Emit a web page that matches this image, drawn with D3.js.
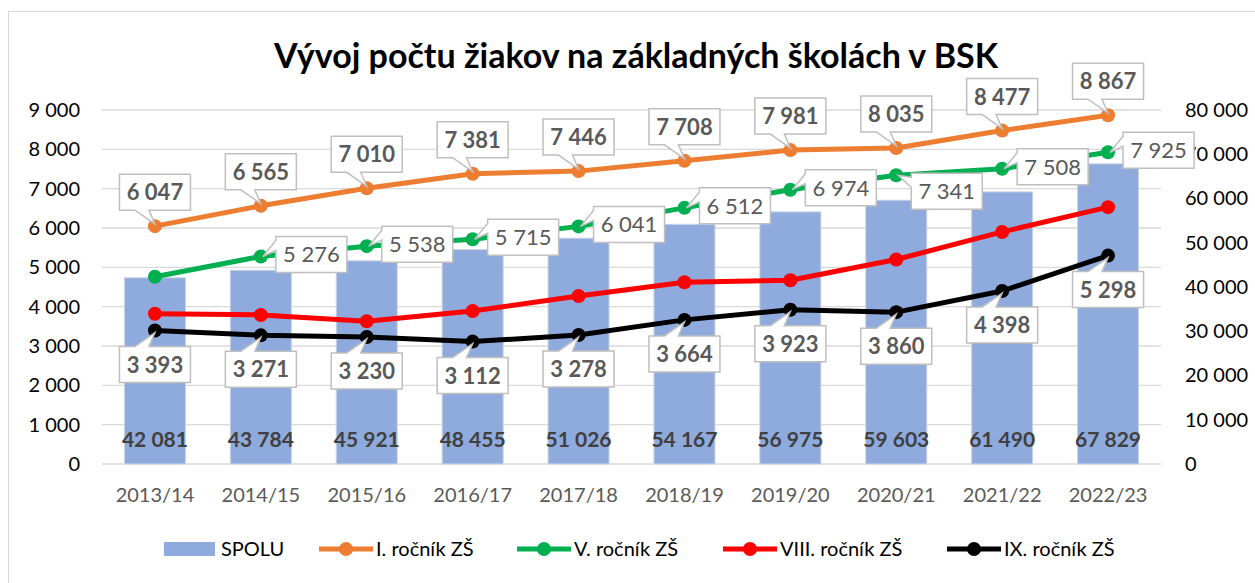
<!DOCTYPE html>
<html>
<head>
<meta charset="utf-8">
<script src="https://cdn.jsdelivr.net/npm/d3@7"></script>
<style>
  body { margin: 0; background: #fff; }
  svg { font-family: Lato, "Open Sans", sans-serif; }
</style>
</head>
<body>
<svg id="chart" width="1255" height="583"></svg>
<script>
// data
const years = ['2013/14','2014/15','2015/16','2016/17','2017/18','2018/19','2019/20','2020/21','2021/22','2022/23'];
const spolu = [42081, 43784, 45921, 48455, 51026, 54167, 56975, 59603, 61490, 67829];
const rocnik1 = [6047, 6565, 7010, 7381, 7446, 7708, 7981, 8035, 8477, 8867];
const rocnik5 = [4760, 5276, 5538, 5715, 6041, 6512, 6974, 7341, 7508, 7925];
const rocnik8 = [3820, 3790, 3630, 3890, 4270, 4620, 4670, 5200, 5900, 6530];
const rocnik9 = [3393, 3271, 3230, 3112, 3278, 3664, 3923, 3860, 4398, 5298];
const leftTicks = [0, 1000, 2000, 3000, 4000, 5000, 6000, 7000, 8000, 9000];
const rightTicks = [0, 10000, 20000, 30000, 40000, 50000, 60000, 70000, 80000];
const title = 'Vývoj počtu žiakov na základných školách v BSK';

const svg = d3.select('#chart');
const margin = {left: 102, right: 94, top: 110, bottom: 119};
const width = +svg.attr('width');
const height = +svg.attr('height');

const fmt = d3.formatLocale({decimal: ',', thousands: ' ', grouping: [3], currency: ['', '']}).format(',');

// chart frame
svg.append('rect')
  .attr('x', 8.5).attr('y', 11.5)
  .attr('width', 1260).attr('height', 600)
  .attr('fill', 'none').attr('stroke', '#d9d9d9');

// scales
const x = d3.scaleBand()
  .domain(years)
  .range([margin.left, width - margin.right])
  .paddingInner(0.424)
  .paddingOuter(0.212);
const cx = d => x(d) + x.bandwidth() / 2;

const yL = d3.scaleLinear().domain([0, 9000]).range([height - margin.bottom, margin.top]);
const yR = d3.scaleLinear().domain([0, 80000]).range([height - margin.bottom, margin.top]);

// gridlines
svg.append('g').selectAll('line')
  .data(leftTicks)
  .join('line')
    .attr('x1', margin.left).attr('x2', width - margin.right)
    .attr('y1', d => yL(d)).attr('y2', d => yL(d))
    .attr('stroke', '#d9d9d9').attr('stroke-width', 1.3);

// axes
const yAxisL = svg.append('g')
  .attr('transform', `translate(${margin.left},0)`)
  .call(d3.axisLeft(yL).tickValues(leftTicks).tickSize(0).tickPadding(22).tickFormat(fmt));
yAxisL.select('.domain').remove();
yAxisL.selectAll('text').attr('font-size', 20).attr('fill', '#000').attr('font-family', 'Lato');

const yAxisR = svg.append('g')
  .attr('transform', `translate(${width - margin.right},0)`)
  .call(d3.axisRight(yR).tickValues(rightTicks).tickSize(0).tickPadding(24).tickFormat(fmt));
yAxisR.select('.domain').remove();
yAxisR.selectAll('text').attr('font-size', 20).attr('fill', '#000').attr('font-family', 'Lato');

const xAxis = svg.append('g')
  .attr('transform', `translate(0,${height - margin.bottom})`)
  .call(d3.axisBottom(x).tickSize(0).tickPadding(24));
xAxis.select('.domain').remove();
xAxis.selectAll('text').attr('font-size', 20).attr('fill', '#595959').attr('font-family', 'Lato');

// bars
svg.append('g').selectAll('rect')
  .data(years)
  .join('rect')
    .attr('x', d => x(d))
    .attr('y', (d, i) => yR(spolu[i]))
    .attr('width', x.bandwidth())
    .attr('height', (d, i) => yR(0) - yR(spolu[i]))
    .attr('fill', '#8faadc')
    .attr('stroke', '#c9d3e6').attr('stroke-width', 1);

// bar labels
svg.append('g').selectAll('text')
  .data(years)
  .join('text')
    .attr('x', d => cx(d))
    .attr('y', 447)
    .attr('text-anchor', 'middle')
    .attr('font-size', 21).attr('font-weight', 'bold')
    .attr('fill', '#404040')
    .text((d, i) => fmt(spolu[i]));

// lines
const series = [
  {name: 'I. ročník ZŠ', values: rocnik1, color: '#ed7d31', label: 'above'},
  {name: 'V. ročník ZŠ', values: rocnik5, color: '#00b050', label: 'right'},
  {name: 'VIII. ročník ZŠ', values: rocnik8, color: '#ff0000', label: null},
  {name: 'IX. ročník ZŠ', values: rocnik9, color: '#000000', label: 'below'}
];

const lineGen = d3.line()
  .x((d, i) => cx(years[i]))
  .y(d => yL(d));

series.forEach(s => {
  const g = svg.append('g');
  g.append('path')
    .attr('d', lineGen(s.values))
    .attr('fill', 'none')
    .attr('stroke', s.color)
    .attr('stroke-width', 5)
    .attr('stroke-linejoin', 'round');
  g.selectAll('circle')
    .data(s.values)
    .join('circle')
      .attr('cx', (d, i) => cx(years[i]))
      .attr('cy', d => yL(d))
      .attr('r', 7)
      .attr('fill', s.color);
});

// callout labels
const boxW = 71, boxH = 36;
const labelLayer = svg.append('g');

function callout(px, py, text, pos, bold, dy) {
  let x0, y0, pts;
  if (pos === 'above') {
    x0 = px - boxW / 2; y0 = py - 16 - boxH;
    const y1 = y0 + boxH;
    pts = [[x0, y0], [x0 + boxW, y0], [x0 + boxW, y1], [px - 6, y1], [px, py - 2], [px - 20, y1], [x0, y1]];
  } else if (pos === 'below') {
    x0 = px - boxW / 2; y0 = py + 16;
    const y1 = y0 + boxH;
    pts = [[x0, y0], [px - 20, y0], [px, py + 2], [px - 6, y0], [x0 + boxW, y0], [x0 + boxW, y1], [x0, y1]];
  } else {
    x0 = px + 15; y0 = py - boxH / 2 - 2 + dy;
    const y1 = y0 + boxH;
    pts = [[x0, y0], [x0 + boxW, y0], [x0 + boxW, y1], [x0, y1], [x0, y0 + 14], [px + 2, py], [x0, y0 + 4]];
  }
  labelLayer.append('path')
    .attr('d', d3.line()(pts) + 'Z')
    .attr('fill', '#fff')
    .attr('stroke', '#bfbfbf')
    .attr('stroke-width', 1.5);
  labelLayer.append('text')
    .attr('x', x0 + boxW / 2)
    .attr('y', y0 + boxH / 2 + 8)
    .attr('text-anchor', 'middle')
    .attr('font-size', 22)
    .attr('font-weight', bold ? 'bold' : 'normal')
    .attr('fill', '#595959')
    .text(text);
}

// small nudge where labels would collide
const rightLabelShift = {7: 18};

series.forEach(s => {
  if (!s.label) return;
  s.values.forEach((v, i) => {
    if (s.label === 'right' && i === 0) return;
    callout(cx(years[i]), yL(v), fmt(v), s.label, s.label !== 'right', rightLabelShift[i] || 0);
  });
});

// title
svg.append('text')
  .attr('x', 636).attr('y', 68)
  .attr('text-anchor', 'middle')
  .attr('font-size', 34).attr('font-weight', 'bold')
  .attr('fill', '#000')
  .text(title);

// legend
const legend = svg.append('g').attr('transform', 'translate(0,549)');
legend.append('rect')
  .attr('x', 164).attr('y', -7).attr('width', 51).attr('height', 14)
  .attr('fill', '#8faadc');
legend.append('text')
  .attr('x', 221).attr('y', 7)
  .attr('font-size', 20).attr('fill', '#000')
  .text('SPOLU');

const legendX = [319, 517, 723, 947];
series.forEach((s, i) => {
  const g = legend.append('g').attr('transform', `translate(${legendX[i]},0)`);
  g.append('line').attr('x1', 0).attr('x2', 54).attr('y1', 0).attr('y2', 0)
    .attr('stroke', s.color).attr('stroke-width', 5);
  g.append('circle').attr('cx', 27).attr('cy', 0).attr('r', 7).attr('fill', s.color);
  g.append('text').attr('x', 57).attr('y', 7)
    .attr('font-size', 20).attr('fill', '#000')
    .text(s.name);
});
</script>
</body>
</html>
